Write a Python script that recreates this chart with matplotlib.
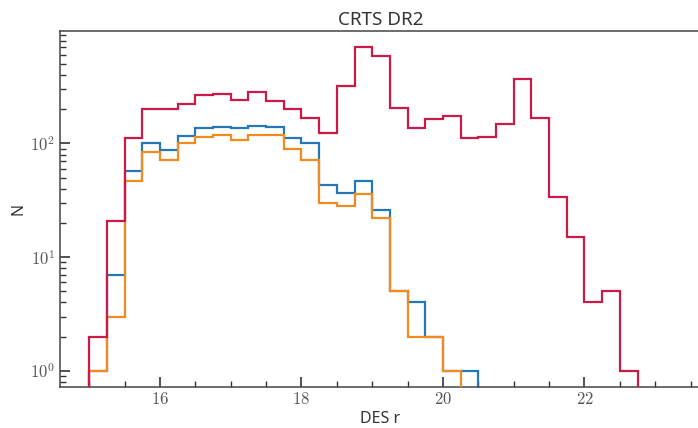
import numpy as np
import matplotlib
matplotlib.use("Agg")
import matplotlib.pyplot as plt
from matplotlib.ticker import FuncFormatter, LogLocator, MultipleLocator

plt.rcParams['font.family'] = ['Noto Sans', 'DejaVu Sans']
plt.rcParams['mathtext.fontset'] = 'cm'

# DES r magnitude bins (width 0.25)
bin_edges = np.arange(15.0, 22.76, 0.25)

# counts per bin
n_all = [2, 21, 112, 203, 199, 221, 265, 270, 241, 283, 236, 199, 168, 124,
         318, 706, 588, 205, 137, 163, 174, 111, 115, 149, 366, 168, 34, 15,
         4, 5, 1]
n_blue = [1, 7, 57, 101, 88, 116, 136, 140, 137, 142, 140, 112, 100, 43,
          37, 47, 26, 5, 4, 2, 1, 1, 0, 0, 0, 0, 0, 0, 0, 0, 0]
n_orange = [1, 3, 47, 84, 72, 100, 115, 118, 107, 118, 118, 90, 72, 30,
            28, 36, 22, 5, 2, 2, 1, 0, 0, 0, 0, 0, 0, 0, 0, 0, 0]

fig = plt.figure(figsize=(6.98, 4.28), dpi=100)
ax = fig.add_axes([60/698, 41/428, 641/698, 356/428])

ax.stairs(n_blue, bin_edges, color='#2378b5', lw=1.6, zorder=2)
ax.stairs(n_orange, bin_edges, color='#f28a1e', lw=1.6, zorder=3)
ax.stairs(n_all, bin_edges, color='#c91a48', lw=1.6, zorder=4)

ax.set_yscale('log')
ax.set_xlim(14.587, 23.647)
ax.set_ylim(0.723, 975)

ax.xaxis.set_major_locator(MultipleLocator(2))
ax.xaxis.set_minor_locator(MultipleLocator(0.5))
ax.xaxis.set_major_formatter(FuncFormatter(lambda v, p: r'$%d$' % v))
ax.yaxis.set_major_locator(LogLocator(base=10))
ax.yaxis.set_minor_locator(LogLocator(base=10, subs=np.arange(2, 10)))
ax.yaxis.set_major_formatter(FuncFormatter(lambda v, p: r'$10^{%d}$' % round(np.log10(v))))

ax.tick_params(which='both', direction='in', labelsize=12, color='#333333',
               labelcolor='#555555')
ax.tick_params(which='major', length=7, width=1.2)
ax.tick_params(which='minor', length=4, width=1.0)
ax.tick_params(axis='y', which='minor', labelleft=False)

for side in ['left', 'bottom', 'top']:
    ax.spines[side].set_color('#444444')
    ax.spines[side].set_linewidth(1.1)

ax.set_title('CRTS DR2', fontsize=13.5, color='#333333', pad=4)
ax.set_xlabel('DES r', fontsize=11.5, color='#333333', labelpad=2)
ax.set_ylabel('N', fontsize=11.5, color='#333333', labelpad=3)

fig.savefig('out.png', dpi=100)
